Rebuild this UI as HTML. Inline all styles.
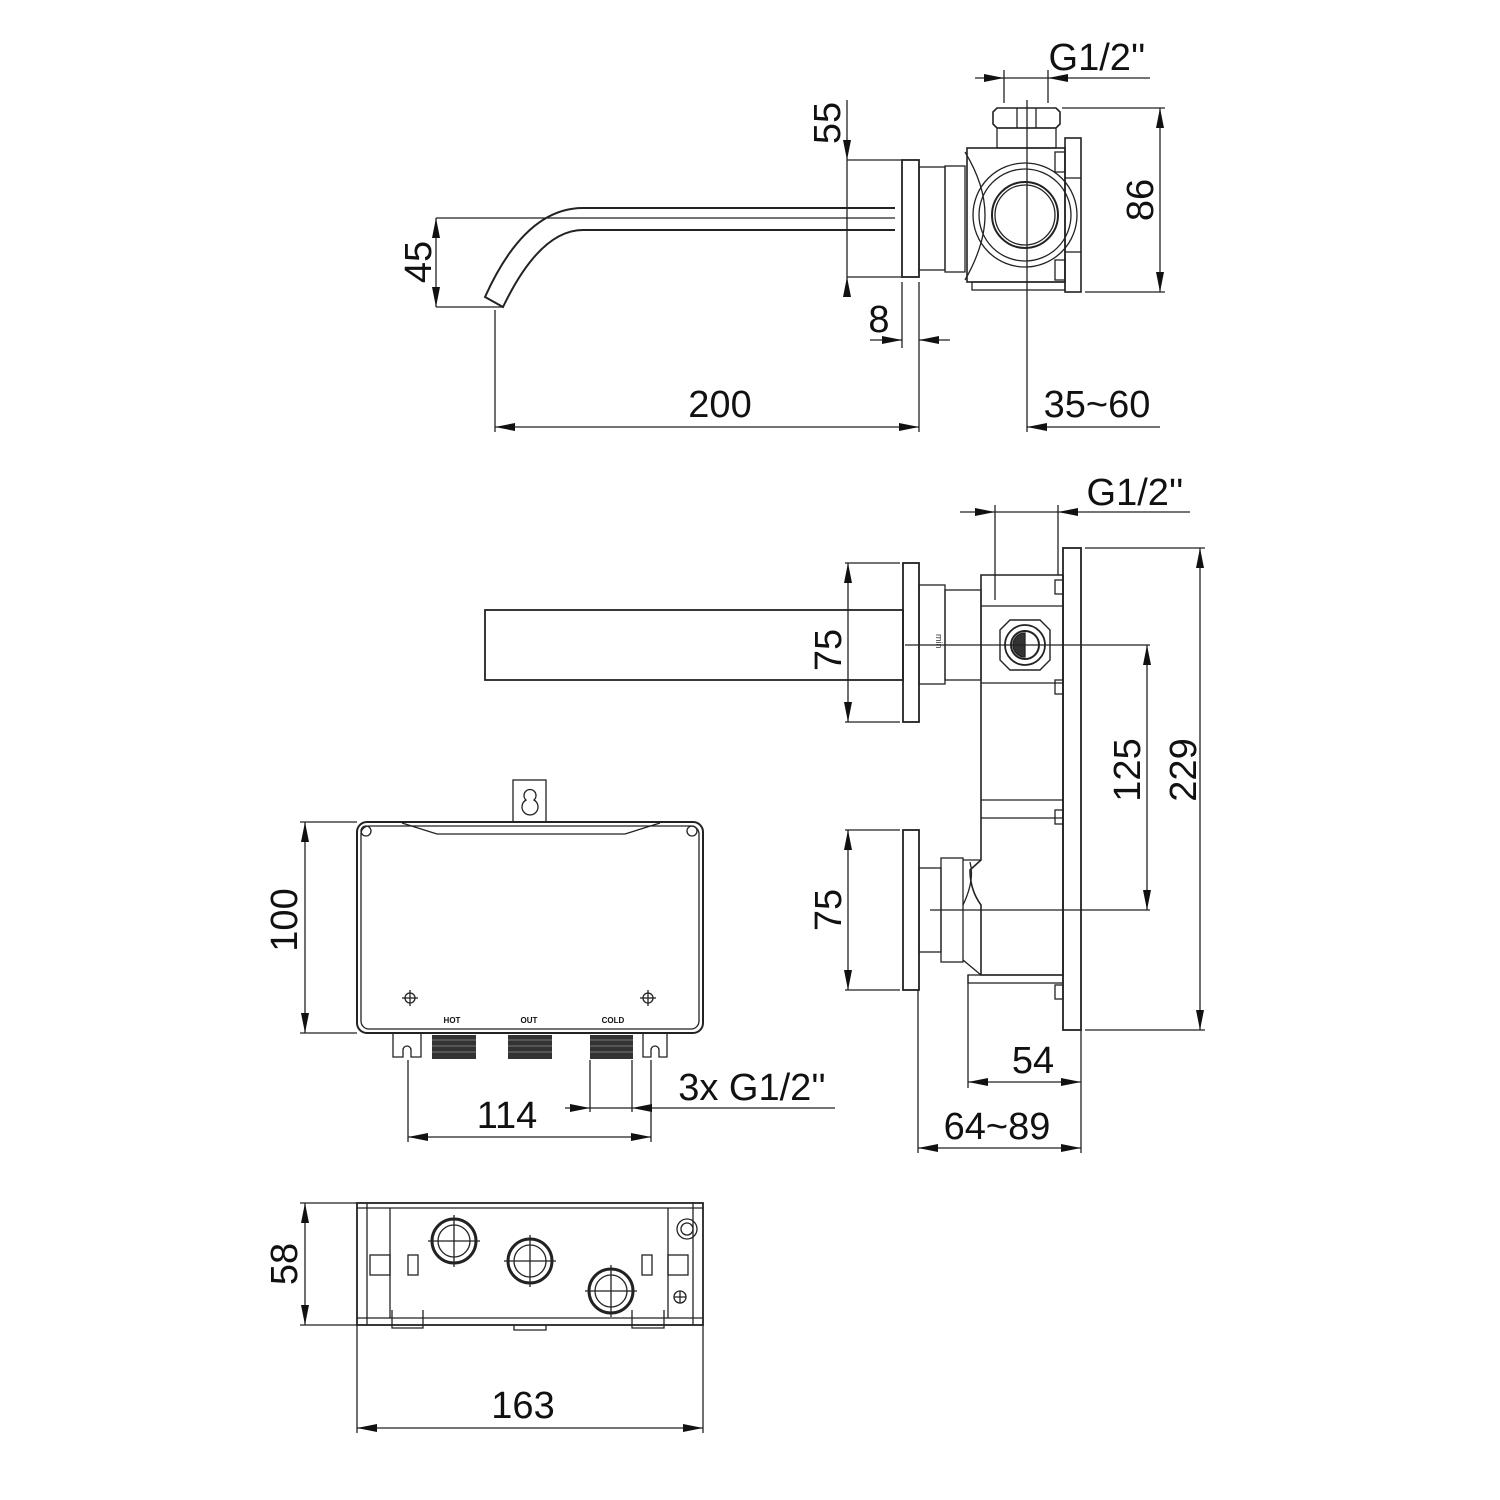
<!DOCTYPE html>
<html><head><meta charset="utf-8"><style>
html,body{margin:0;padding:0;background:#fff}
svg{display:block}
text{font-family:"Liberation Sans",sans-serif;fill:#111}
</style></head><body>
<svg width="1500" height="1500" viewBox="0 0 1500 1500" xmlns="http://www.w3.org/2000/svg">
<defs>
<marker id="a" viewBox="0 0 20 8" refX="20" refY="4" markerWidth="20" markerHeight="8" markerUnits="userSpaceOnUse" orient="auto-start-reverse"><path d="M0,0 L20,4 L0,8 z" fill="#111"/></marker>
</defs>
<g fill="none" stroke="#222" stroke-width="1.3">
<!-- ===== TOP VIEW ===== -->
<path d="M895,208 L583,208 Q525,208 485,297 L503,307 Q540,230 583,230 L895,230" stroke-width="2"/>
<line x1="436" y1="218" x2="895" y2="218"/>
<rect x="902" y="160" width="17" height="117" stroke-width="1.8"/>
<rect x="919" y="167" width="26" height="103"/>
<rect x="945" y="166" width="20" height="106"/>
<rect x="967" y="148" width="98" height="134" stroke-width="1.6"/>
<rect x="972" y="282" width="93" height="8"/>
<path d="M965,152 Q985,185 985,215 Q985,245 965,280"/>
<circle cx="1025" cy="215" r="52"/><circle cx="1025" cy="215" r="46"/>
<circle cx="1025" cy="215" r="33" stroke-width="2"/><circle cx="1025" cy="215" r="30"/>
<rect x="997" y="128" width="59" height="20"/>
<path d="M993,112 L997,108 L1056,108 L1060,112 L1060,124 L1056,128 L997,128 L993,124 z" stroke-width="1.6"/>
<line x1="1017" y1="108" x2="1017" y2="128"/><line x1="1036" y1="108" x2="1036" y2="128"/>
<rect x="1065" y="138" width="16" height="154" stroke-width="1.6"/>
<line x1="1065" y1="178" x2="1081" y2="178"/><line x1="1065" y1="252" x2="1081" y2="252"/>
<rect x="1055" y="152" width="10" height="20"/><rect x="1055" y="260" width="10" height="20"/>
<line x1="1027" y1="100" x2="1027" y2="432"/>
<!-- dims top -->
<line x1="436" y1="307" x2="503" y2="307"/>
<line x1="436" y1="218" x2="436" y2="307" marker-start="url(#a)" marker-end="url(#a)"/>
<line x1="847" y1="160" x2="902" y2="160"/><line x1="847" y1="277" x2="902" y2="277"/>
<line x1="847" y1="100" x2="847" y2="160" marker-end="url(#a)"/>
<line x1="847" y1="295" x2="847" y2="277" marker-end="url(#a)"/>
<line x1="847" y1="160" x2="847" y2="277"/>
<line x1="1062" y1="108" x2="1165" y2="108"/><line x1="1085" y1="292" x2="1165" y2="292"/>
<line x1="1160" y1="108" x2="1160" y2="292" marker-start="url(#a)" marker-end="url(#a)"/>
<line x1="1004" y1="70" x2="1004" y2="103"/><line x1="1048" y1="70" x2="1048" y2="103"/>
<line x1="975" y1="78" x2="1004" y2="78" marker-end="url(#a)"/>
<line x1="1150" y1="78" x2="1048" y2="78" marker-end="url(#a)"/>
<line x1="1004" y1="78" x2="1048" y2="78"/>
<line x1="902" y1="282" x2="902" y2="348"/><line x1="919" y1="282" x2="919" y2="432"/>
<line x1="870" y1="340" x2="902" y2="340" marker-end="url(#a)"/>
<line x1="950" y1="340" x2="919" y2="340" marker-end="url(#a)"/>
<line x1="495" y1="310" x2="495" y2="432"/>
<line x1="495" y1="427" x2="919" y2="427" marker-start="url(#a)" marker-end="url(#a)"/>
<line x1="1160" y1="427" x2="1027" y2="427" marker-end="url(#a)"/>
<!-- ===== SIDE VIEW ===== -->
<rect x="485" y="610" width="418" height="70" stroke-width="1.8"/>
<rect x="903" y="563" width="16" height="159" stroke-width="1.8"/>
<rect x="919" y="585" width="26" height="99"/>
<rect x="945" y="590" width="36" height="90"/>
<path d="M981,575 L1063,575 L1063,975 L981,975 L981,905 Q970,890 970,870 L981,860 z" stroke-width="1.6"/>
<line x1="981" y1="606" x2="1063" y2="606"/><line x1="981" y1="683" x2="1063" y2="683"/>
<line x1="981" y1="800" x2="1063" y2="800"/><line x1="981" y1="818" x2="1063" y2="818"/>
<rect x="1063" y="548" width="18" height="482" stroke-width="1.8"/>
<rect x="1055" y="580" width="8" height="14"/><rect x="1055" y="680" width="8" height="14"/>
<rect x="1055" y="810" width="8" height="14"/><rect x="1055" y="985" width="8" height="14"/>
<path d="M1000,630 L1010,620 L1040,620 L1050,630 L1050,660 L1040,670 L1010,670 L1000,660 z" stroke-width="1.4"/>
<circle cx="1025" cy="645" r="20" stroke-width="1.8"/><circle cx="1025" cy="645" r="14" stroke-width="2"/>
<path d="M1025,633 A12,12 0 0 0 1025,657 z" fill="#333"/>
<rect x="903" y="830" width="16" height="160" stroke-width="1.8"/>
<rect x="919" y="868" width="22" height="84"/>
<rect x="941" y="858" width="22" height="104"/>
<path d="M963,860 L981,860 M963,960 L981,975 M963,905 Q975,880 970,862"/>
<rect x="968" y="975" width="95" height="8"/>
<line x1="905" y1="645" x2="1150" y2="645"/>
<line x1="930" y1="910" x2="1150" y2="910"/>
<text x="930" y="640" font-size="9" transform="rotate(90 936 640)" stroke="none" style="font-size:9px;fill:#333">min</text>
<!-- dims side -->
<line x1="845" y1="563" x2="900" y2="563"/><line x1="845" y1="722" x2="900" y2="722"/>
<line x1="848" y1="563" x2="848" y2="722" marker-start="url(#a)" marker-end="url(#a)"/>
<line x1="845" y1="830" x2="900" y2="830"/><line x1="845" y1="990" x2="900" y2="990"/>
<line x1="848" y1="830" x2="848" y2="990" marker-start="url(#a)" marker-end="url(#a)"/>
<line x1="1147" y1="645" x2="1147" y2="910" marker-start="url(#a)" marker-end="url(#a)"/>
<line x1="1085" y1="548" x2="1205" y2="548"/><line x1="1085" y1="1030" x2="1205" y2="1030"/>
<line x1="1200" y1="548" x2="1200" y2="1030" marker-start="url(#a)" marker-end="url(#a)"/>
<line x1="995" y1="505" x2="995" y2="600"/><line x1="1058" y1="505" x2="1058" y2="575"/>
<line x1="960" y1="512" x2="995" y2="512" marker-end="url(#a)"/>
<line x1="1190" y1="512" x2="1058" y2="512" marker-end="url(#a)"/>
<line x1="995" y1="512" x2="1058" y2="512"/>
<line x1="968" y1="975" x2="968" y2="1088"/>
<line x1="968" y1="1082" x2="1081" y2="1082" marker-start="url(#a)" marker-end="url(#a)"/>
<line x1="918" y1="990" x2="918" y2="1153"/><line x1="1081" y1="1030" x2="1081" y2="1153"/>
<line x1="918" y1="1148" x2="1081" y2="1148" marker-start="url(#a)" marker-end="url(#a)"/>
<!-- ===== BOX FRONT ===== -->
<rect x="357" y="822" width="346" height="211" rx="10" stroke-width="2"/>
<rect x="361" y="826" width="338" height="203" rx="8"/>
<path d="M402,823 L437,834 L625,834 L660,823"/>
<rect x="513" y="780" width="33" height="42"/>
<path d="M526,800 A6,6 0 1 1 534,800 A8,8 0 1 1 526,800 z"/>
<circle cx="366" cy="831" r="5"/><circle cx="692" cy="831" r="5"/>
<circle cx="410" cy="998" r="5"/><line x1="402" y1="998" x2="418" y2="998"/><line x1="410" y1="990" x2="410" y2="1006"/>
<circle cx="648" cy="998" r="5"/><line x1="640" y1="998" x2="656" y2="998"/><line x1="648" y1="990" x2="648" y2="1006"/>
<path d="M393,1033 L393,1057 L403,1057 L403,1050 A4,4 0 0 1 411,1050 L411,1057 L421,1057 L421,1033"/>
<path d="M643,1033 L643,1057 L651,1057 L651,1050 A4,4 0 0 1 659,1050 L659,1057 L667,1057 L667,1033"/>
</g>
<g fill="#333">
<rect x="432" y="1035" width="44" height="24"/>
<rect x="508" y="1035" width="44" height="24"/>
<rect x="590" y="1035" width="43" height="24"/>
</g>
<g stroke="#777" stroke-width="1">
<line x1="432" y1="1040" x2="476" y2="1040"/><line x1="432" y1="1046" x2="476" y2="1046"/><line x1="432" y1="1052" x2="476" y2="1052"/>
<line x1="508" y1="1040" x2="552" y2="1040"/><line x1="508" y1="1046" x2="552" y2="1046"/><line x1="508" y1="1052" x2="552" y2="1052"/>
<line x1="590" y1="1040" x2="633" y2="1040"/><line x1="590" y1="1046" x2="633" y2="1046"/><line x1="590" y1="1052" x2="633" y2="1052"/>
</g>
<g font-size="8" font-weight="bold" text-anchor="middle" style="font-size:8px">
<text x="452" y="1023">HOT</text><text x="529" y="1023">OUT</text><text x="613" y="1023">COLD</text>
</g>
<g fill="none" stroke="#222" stroke-width="1.3">
<line x1="300" y1="822" x2="357" y2="822"/><line x1="300" y1="1033" x2="357" y2="1033"/>
<line x1="305" y1="822" x2="305" y2="1033" marker-start="url(#a)" marker-end="url(#a)"/>
<line x1="408" y1="1060" x2="408" y2="1142"/><line x1="651" y1="1060" x2="651" y2="1142"/>
<line x1="408" y1="1137" x2="651" y2="1137" marker-start="url(#a)" marker-end="url(#a)"/>
<line x1="590" y1="1060" x2="590" y2="1112"/><line x1="632" y1="1060" x2="632" y2="1112"/>
<line x1="565" y1="1108" x2="590" y2="1108" marker-end="url(#a)"/>
<line x1="835" y1="1108" x2="632" y2="1108" marker-end="url(#a)"/>
<line x1="590" y1="1108" x2="632" y2="1108"/>
<!-- ===== BOX BOTTOM ===== -->
<rect x="357" y="1203" width="346" height="122" stroke-width="1.8"/>
<line x1="357" y1="1208" x2="703" y2="1208"/>
<line x1="357" y1="1318" x2="703" y2="1318"/>
<line x1="367" y1="1203" x2="367" y2="1325"/><line x1="693" y1="1203" x2="693" y2="1325"/>
<line x1="390" y1="1208" x2="390" y2="1318"/><line x1="668" y1="1208" x2="668" y2="1318"/>
<rect x="370" y="1255" width="20" height="20"/><rect x="668" y="1255" width="20" height="20"/>
<rect x="408" y="1255" width="10" height="20"/><rect x="642" y="1255" width="10" height="20"/>
<circle cx="454" cy="1241" r="22" stroke-width="3"/><circle cx="454" cy="1241" r="16"/>
<circle cx="530" cy="1261" r="22" stroke-width="3"/><circle cx="530" cy="1261" r="16"/>
<circle cx="611" cy="1291" r="22" stroke-width="3"/><circle cx="611" cy="1291" r="16"/>
<path d="M428,1241 H480 M454,1215 V1267 M504,1261 H556 M530,1235 V1287 M585,1291 H637 M611,1265 V1317"/>
<circle cx="687" cy="1229" r="10"/><circle cx="687" cy="1229" r="6"/>
<circle cx="680" cy="1297" r="6"/><path d="M674,1297 H686 M680,1291 V1303"/>
<path d="M392,1310 V1328 H423 V1310 M632,1310 V1328 H664 V1310 M514,1325 V1330 H546 V1325"/>
<line x1="300" y1="1203" x2="357" y2="1203"/><line x1="300" y1="1325" x2="357" y2="1325"/>
<line x1="305" y1="1203" x2="305" y2="1325" marker-start="url(#a)" marker-end="url(#a)"/>
<line x1="357" y1="1325" x2="357" y2="1433"/><line x1="703" y1="1325" x2="703" y2="1433"/>
<line x1="357" y1="1428" x2="703" y2="1428" marker-start="url(#a)" marker-end="url(#a)"/>
</g>
<!-- ===== TEXT ===== -->
<g font-size="38" text-anchor="middle" style="font-size:38px">
<text x="1097" y="70">G1/2''</text>
<text x="720" y="417">200</text>
<text x="1097" y="417">35~60</text>
<text x="879" y="332">8</text>
<text transform="translate(431,262) rotate(-90)">45</text>
<text transform="translate(840,123) rotate(-90)">55</text>
<text transform="translate(1153,200) rotate(-90)">86</text>
<text x="1135" y="505">G1/2''</text>
<text transform="translate(841,650) rotate(-90)">75</text>
<text transform="translate(841,910) rotate(-90)">75</text>
<text transform="translate(1140,770) rotate(-90)">125</text>
<text transform="translate(1196,770) rotate(-90)">229</text>
<text x="1033" y="1073">54</text>
<text x="997" y="1139">64~89</text>
<text transform="translate(297,920) rotate(-90)">100</text>
<text x="507" y="1128">114</text>
<text x="752" y="1100">3x G1/2''</text>
<text transform="translate(297,1264) rotate(-90)">58</text>
<text x="523" y="1418">163</text>
</g>
</svg>
</body></html>
